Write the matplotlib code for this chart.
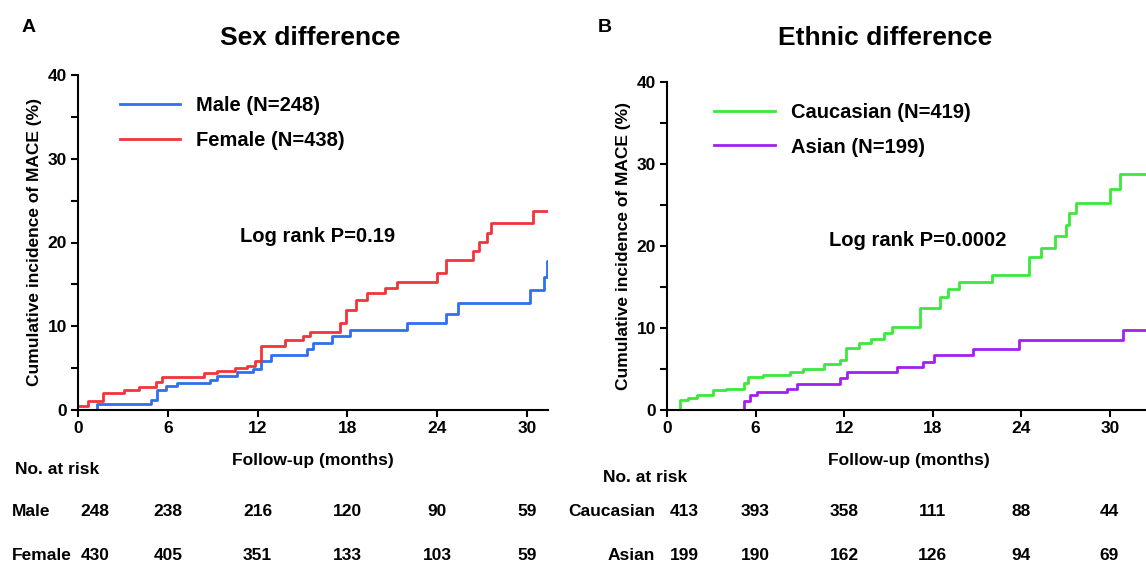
import matplotlib.pyplot as plt
from matplotlib.ticker import MultipleLocator

plt.rcParams['font.family'] = ['Liberation Sans', 'DejaVu Sans']
plt.rcParams['font.weight'] = 'bold'

# Panel A: sex difference (months, cumulative %)
male_t = [0, 1.3, 4.9, 5.3, 5.9, 6.6, 8.8, 9.3, 10.6, 11.7, 12.2, 12.9, 15.3, 15.7, 17.0, 18.2, 22.0, 24.6, 25.4, 30.2, 31.1, 31.3, 31.4]
male_y = [0, 0.7, 1.2, 2.4, 2.9, 3.2, 3.6, 4.1, 4.5, 4.9, 5.8, 6.6, 7.3, 8.0, 8.8, 9.5, 10.4, 11.5, 12.8, 14.3, 15.9, 17.8, 17.8]
female_t = [0, 0.7, 1.7, 3.1, 4.1, 5.2, 5.6, 8.4, 9.3, 10.5, 11.3, 11.8, 12.2, 13.8, 15.0, 15.5, 17.5, 17.9, 18.6, 19.3, 20.5, 21.3, 24.0, 24.6, 26.4, 26.8, 27.3, 27.6, 30.4, 31.4]
female_y = [0.5, 1.1, 2.0, 2.4, 2.8, 3.4, 4.0, 4.4, 4.7, 5.0, 5.3, 5.8, 7.7, 8.3, 8.8, 9.3, 10.4, 11.9, 13.1, 14.0, 14.6, 15.3, 16.4, 17.9, 19.0, 20.1, 21.1, 22.3, 23.8, 23.8]

# Panel B: ethnic difference
cauc_t = [0, 0.9, 1.45, 2.0, 3.1, 4.0, 5.2, 5.5, 6.5, 8.3, 9.2, 10.6, 11.7, 12.1, 13.0, 13.8, 14.7, 15.2, 17.1, 18.5, 19.0, 19.8, 22.0, 24.5, 25.3, 26.3, 27.0, 27.2, 27.7, 30.0, 30.7, 32.7]
cauc_y = [0, 1.2, 1.5, 1.8, 2.4, 2.6, 3.3, 4.0, 4.3, 4.6, 5.0, 5.6, 6.1, 7.6, 8.2, 8.7, 9.4, 10.1, 12.4, 13.8, 14.8, 15.6, 16.5, 18.7, 19.8, 21.2, 22.6, 24.0, 25.3, 27.0, 28.8, 28.8]
asian_t = [0, 4.8, 5.2, 5.6, 6.1, 8.1, 8.8, 11.7, 12.2, 15.6, 17.3, 18.1, 20.7, 23.8, 30.9, 32.7]
asian_y = [0, 0, 1.1, 1.8, 2.2, 2.6, 3.2, 3.9, 4.6, 5.2, 5.9, 6.7, 7.5, 8.5, 9.8, 9.8]

risk_times = [0, 6, 12, 18, 24, 30]
risk_male = [248, 238, 216, 120, 90, 59]
risk_female = [430, 405, 351, 133, 103, 59]
risk_cauc = [413, 393, 358, 111, 88, 44]
risk_asian = [199, 190, 162, 126, 94, 69]

W, H = 1146, 566
fig = plt.figure(figsize=(W / 100, H / 100), dpi=100)


def fx(x):
    return x / W


def fy(y):
    return 1 - y / H


def make_axes(l, t, r, b, xmax):
    ax = fig.add_axes([l / W, 1 - b / H, (r - l) / W, (b - t) / H])
    ax.set_xlim(0, xmax)
    ax.set_ylim(0, 40)
    ax.spines['top'].set_visible(False)
    ax.spines['right'].set_visible(False)
    for s in ('left', 'bottom'):
        ax.spines[s].set_linewidth(1.5)
    ax.xaxis.set_major_locator(MultipleLocator(6))
    ax.yaxis.set_major_locator(MultipleLocator(10))
    ax.yaxis.set_minor_locator(MultipleLocator(5))
    ax.tick_params(width=1.5, length=5, labelsize=12.5, pad=3)
    ax.tick_params(which='minor', width=1.5, length=5)
    ax.set_xlabel('Follow-up (months)', fontsize=12.5, fontweight='bold', labelpad=12)
    ax.set_ylabel('Cumulative incidence of MACE (%)', fontsize=12.5, fontweight='bold', labelpad=4)
    return ax


axA = make_axes(78, 75, 548, 410, 31.4)
axA.step(male_t, male_y, where='post', color='#2f6ff0', lw=2, label='Male (N=248)')
axA.step(female_t, female_y, where='post', color='#f0343c', lw=2, label='Female (N=438)')
axA.legend(loc='upper left', bbox_to_anchor=(0.05, 0.99), frameon=False, fontsize=14.5,
           handlelength=3.0, labelspacing=0.75)
axA.text(0.51, 0.5, 'Log rank P=0.19', transform=axA.transAxes, fontsize=14.5, ha='center')

axB = make_axes(667, 82, 1150, 410, 32.7)
axB.step(cauc_t, cauc_y, where='post', color='#3be83b', lw=2, label='Caucasian (N=419)')
axB.step(asian_t, asian_y, where='post', color='#a020f0', lw=2, label='Asian (N=199)')
axB.legend(loc='upper left', bbox_to_anchor=(0.06, 0.99), frameon=False, fontsize=14.5,
           handlelength=3.0, labelspacing=0.75)
axB.text(0.52, 0.5, 'Log rank P=0.0002', transform=axB.transAxes, fontsize=14.5, ha='center')

fig.text(fx(310), fy(38), 'Sex difference', fontsize=19, fontweight='bold', ha='center', va='center')
fig.text(fx(885), fy(38), 'Ethnic difference', fontsize=19, fontweight='bold', ha='center', va='center')
fig.text(fx(22), fy(28), 'A', fontsize=14, fontweight='bold', va='center')
fig.text(fx(598), fy(28), 'B', fontsize=14, fontweight='bold', va='center')


def risk_table(x0, px_per_mo, rows, label_x, label_ha, ys):
    for (name, vals), y in zip(rows, ys):
        fig.text(fx(label_x), fy(y), name, fontsize=12.5, fontweight='bold',
                 ha=label_ha, va='center')
        for t, v in zip(risk_times, vals):
            xp = x0 + t * px_per_mo + (17 if t == 0 else 0)
            fig.text(fx(xp), fy(y), str(v), fontsize=12.5, fontweight='bold',
                     ha='center', va='center')


fig.text(fx(15), fy(470), 'No. at risk', fontsize=12.5, fontweight='bold', va='center')
risk_table(78, 14.97, [('Male', risk_male), ('Female', risk_female)], 12, 'left', (511, 555))
fig.text(fx(603), fy(478), 'No. at risk', fontsize=12.5, fontweight='bold', va='center')
risk_table(667, 14.75, [('Caucasian', risk_cauc), ('Asian', risk_asian)], 655, 'right', (511, 555))

fig.savefig('out.png', dpi=100)
